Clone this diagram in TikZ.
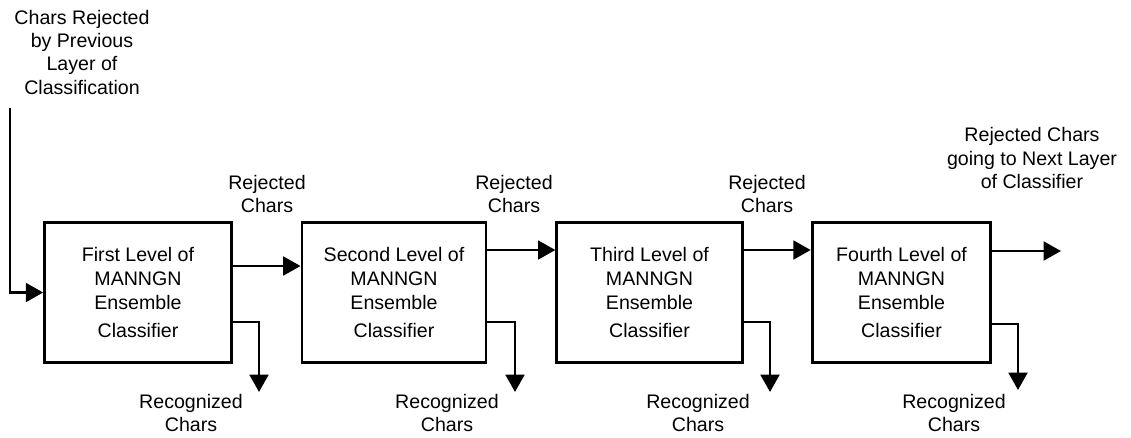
\documentclass[tikz,border=0pt]{standalone}
\usepackage{fontspec}
\setmainfont{Liberation Sans}
\usetikzlibrary{arrows.meta}
\begin{document}
\begin{tikzpicture}[x=0.75pt,y=-0.75pt,
  lbl/.style={align=center,inner sep=0pt,font=\fontsize{14.7pt}{17.5pt}\selectfont},
  level/.style={draw,line width=2.2pt,minimum height=105pt,inner sep=0pt,
    align=center,font=\fontsize{14.7pt}{18pt}\selectfont},
  arr/.style={line width=2.2pt,-{Triangle[length=13pt,width=14pt]}}]
\useasboundingbox (0,0) rectangle (1131,437);

% classifier stages
\node[level,minimum width=140pt] (b1) at (138,292.5) {First Level of\\MANNGN\\Ensemble\\[3pt]Classifier};
\node[level,minimum width=138pt] (b2) at (394,292.5) {Second Level of\\MANNGN\\Ensemble\\[3pt]Classifier};
\node[level,minimum width=139pt] (b3) at (649.5,292.5) {Third Level of\\MANNGN\\Ensemble\\[3pt]Classifier};
\node[level,minimum width=134pt] (b4) at (901.5,292.5) {Fourth Level of\\MANNGN\\Ensemble\\[3pt]Classifier};

% free ends
\coordinate (src) at (10,108);
\coordinate (out) at (1061,251);
\coordinate (r1) at (259,392);
\coordinate (r2) at (515,392);
\coordinate (r3) at (770,392);
\coordinate (r4) at (1018,390);

% labels
\node[lbl] (tin) at (82,52) {Chars Rejected\\by Previous\\Layer of\\Classification};
\node[lbl] (t1) at (267,194) {Rejected\\Chars};
\node[lbl] (t2) at (514,194) {Rejected\\Chars};
\node[lbl] (t3) at (767,194) {Rejected\\Chars};
\node[lbl] (tout) at (1032,158) {Rejected Chars\\going to Next Layer\\of Classifier};
\node[lbl] (g1) at (191,413) {Recognized\\Chars};
\node[lbl] (g2) at (447,413) {Recognized\\Chars};
\node[lbl] (g3) at (698,413) {Recognized\\Chars};
\node[lbl] (g4) at (954,413) {Recognized\\Chars};

% rejected flow
\draw[arr] (src) |- (b1.west);
\draw[arr] (b1.east |- 0,266) -- (b2.west |- 0,266);
\draw[arr] (b2.east |- 0,250) -- (b3.west |- 0,250);
\draw[arr] (b3.east |- 0,250) -- (b4.west |- 0,250);
\draw[arr] (b4.east |- out) -- (out);

% recognized outputs
\draw[arr] (b1.east |- 0,322) -| (r1);
\draw[arr] (b2.east |- 0,322) -| (r2);
\draw[arr] (b3.east |- 0,322) -| (r3);
\draw[arr] (b4.east |- 0,324) -| (r4);
\end{tikzpicture}
\end{document}
